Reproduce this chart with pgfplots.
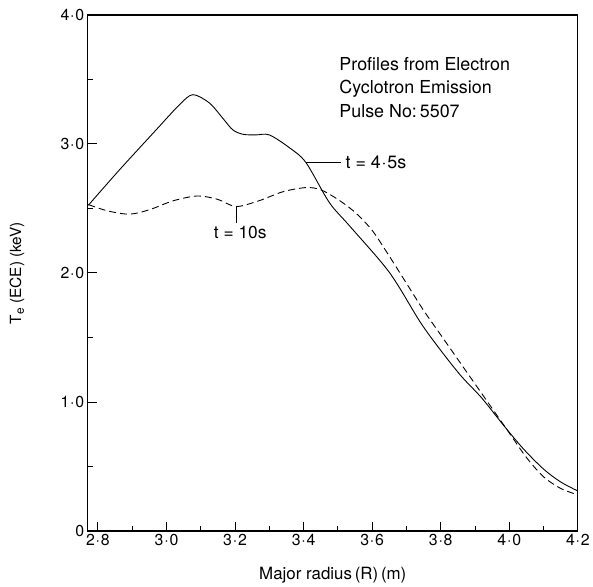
\documentclass[border=0pt]{standalone}
\usepackage{pgfplots}
\pgfplotsset{compat=1.18}
\usepackage{fontspec}
\setmainfont{TeX Gyre Heros}
\newcommand{\cd}{\kern0.8pt\textperiodcentered\kern0.8pt}
\begin{document}
\begin{tikzpicture}
\begin{axis}[
  scale only axis, width=492bp, height=518bp,
  xmin=2.77, xmax=4.2, ymin=0, ymax=4,
  axis line style={line width=1.2pt},
  tick style={black, line width=1pt},
  tick align=inside,
  xtick={2.8,3.0,3.2,3.4,3.6,3.8,4.0,4.2},
  xticklabels={2\cd 8,3\cd 0,3\cd 2,3\cd 4,3\cd 6,3\cd 8,4\cd 0,4\cd 2},
  minor xtick={2.9,3.1,3.3,3.5,3.7,3.9,4.1},
  ytick={0,1,2,3,4},
  yticklabels={0,1\cd 0,2\cd 0,3\cd 0,4\cd 0},
  minor ytick={0.5,1.5,2.5,3.5},
  xtick pos=left, ytick pos=left,
  major tick length=9bp, minor tick length=5bp,
  ticklabel style={font=\fontsize{16}{18}\selectfont},
  xlabel={Major radius\,(R)\,(m)},
  ylabel={T\raisebox{-0.35ex}{\fontsize{12}{12}\selectfont e} (ECE) (keV)},
  xlabel style={font=\fontsize{17}{20}\selectfont, at={(axis description cs:0.5,-0.085)}, anchor=center},
  ylabel style={font=\fontsize{15.5}{18}\selectfont, at={(axis description cs:-0.1443,0.5)}, anchor=center},
  clip=false,
]
% t = 4.5 s (solid)
\addplot[black, line width=0.9pt, smooth, tension=0.5] coordinates {
(2.772,2.525) (2.863,2.80) (2.97,3.11) (3.038,3.305) (3.077,3.382)
(3.125,3.318) (3.164,3.20) (3.193,3.11) (3.223,3.075) (3.26,3.07)
(3.30,3.07) (3.359,2.97) (3.407,2.855) (3.475,2.546) (3.534,2.365)
(3.65,2.005) (3.74,1.62) (3.80,1.40) (3.86,1.20) (3.92,1.03)
(3.98,0.83) (4.04,0.64) (4.10,0.48) (4.15,0.38) (4.20,0.31)
};
% t = 10 s (dashed)
\addplot[black, line width=0.9pt, smooth, tension=0.5, dash pattern=on 7bp off 4bp] coordinates {
(2.772,2.53) (2.83,2.48) (2.892,2.456) (2.95,2.49) (3.02,2.56)
(3.091,2.597) (3.15,2.57) (3.203,2.515) (3.27,2.56) (3.34,2.63)
(3.407,2.662) (3.45,2.645) (3.50,2.57) (3.55,2.47) (3.60,2.33)
(3.65,2.13) (3.70,1.92) (3.75,1.71) (3.80,1.52) (3.85,1.33)
(3.90,1.14) (3.95,0.95) (4.00,0.76) (4.05,0.57) (4.10,0.42)
(4.15,0.33) (4.20,0.28)
};
% annotations
\draw[line width=0.8pt] (axis cs:3.406,2.855) -- (axis cs:3.51,2.855);
\draw[line width=0.8pt] (axis cs:3.203,2.515) -- (axis cs:3.203,2.39);
\node[anchor=base west, inner sep=0, font=\fontsize{18}{20}\selectfont] at (axis cs:3.522,2.811) {t = 4\cd 5s};
\node[anchor=base, inner sep=0, font=\fontsize{17.5}{20}\selectfont] at (axis cs:3.215,2.27) {t = 10s};
\node[anchor=base west, inner sep=0, font=\fontsize{18}{20}\selectfont] at (axis cs:3.504,3.568) {Profiles from Electron};
\node[anchor=base west, inner sep=0, font=\fontsize{18}{20}\selectfont] at (axis cs:3.504,3.388) {Cyclotron Emission};
\node[anchor=base west, inner sep=0, font=\fontsize{18}{20}\selectfont] at (axis cs:3.504,3.208) {Pulse No:\,5507};
\end{axis}
\path (current axis.south west) ++(-88bp,-54bp) rectangle ([xshift=13bp,yshift=15bp]current axis.north east);
\end{tikzpicture}
\end{document}
